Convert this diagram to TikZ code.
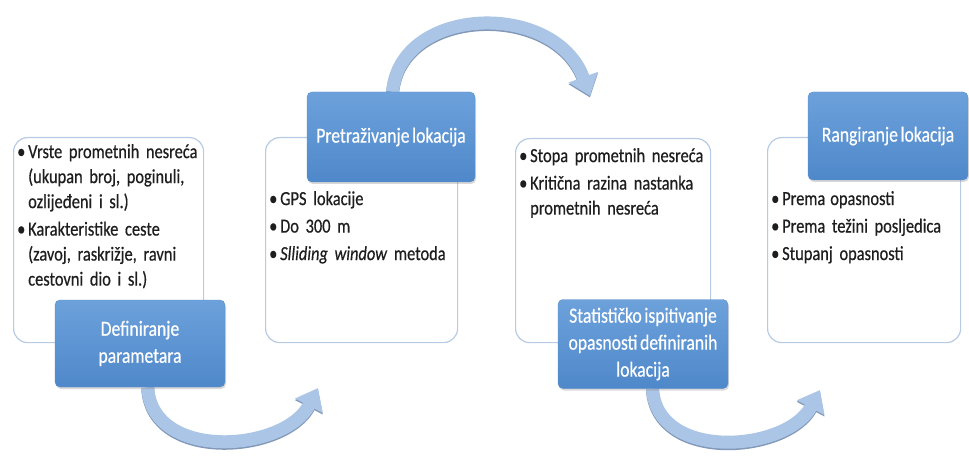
\documentclass[tikz,border=0pt]{standalone}
\usepackage{fontspec}
\setmainfont{Carlito}[FakeStretch=0.82, FakeBold=0.5]
\usetikzlibrary{arrows.meta,backgrounds,shadows}
\definecolor{tagtop}{HTML}{6CA1DB}
\definecolor{tagbot}{HTML}{4F88CA}
\definecolor{tagline}{HTML}{5A8DCA}
\definecolor{panelline}{HTML}{B7CBE4}
\definecolor{flowfill}{HTML}{ABC5E6}
\definecolor{flowedge}{HTML}{8198B8}
\definecolor{txt}{HTML}{1E1E1E}
\newcommand{\itm}[1]{\noindent\hangindent=11pt\hangafter=1\makebox[11pt][l]{\textbullet}#1\par}
\newcommand{\tagfont}{\fontsize{21.5}{27}\selectfont\spaceskip=2.6pt plus 1pt minus 0.5pt\relax}
\newcommand{\itemfont}{\fontsize{20}{25}\selectfont\parskip=2.5pt\relax\spaceskip=2.4pt plus 1pt minus 0.5pt\relax}
\tikzset{
panel/.style={draw=panelline, line width=1.2pt, rounded corners=14pt, fill=white, anchor=north west, inner sep=0pt},
tag/.style={draw=tagline, rounded corners=5pt, top color=tagtop, bottom color=tagbot, text=white, align=center, inner sep=0pt, font=\tagfont, drop shadow={opacity=0.3, shadow xshift=1pt, shadow yshift=-2pt}},
items/.style={anchor=north west, inner sep=0pt, text width=#1, align=left, text=txt, font=\itemfont},
flow/.style={draw=flowfill, line width=13pt, -{Triangle[length=20pt, width=30pt]},
  preaction={draw=flowedge, transform canvas={yshift=-1.5pt}, line width=13pt, -{Triangle[length=20pt, width=30pt]}}}
}
\begin{document}
\begin{tikzpicture}[x=1pt, y=-1pt]
\useasboundingbox (0,0) rectangle (969,457);
% white panels
\node[panel, minimum width=190pt, minimum height=205pt] (parampanel) at (13,137) {};
\node[panel, minimum width=192pt, minimum height=205pt] (lokpanel) at (265,137) {};
\node[panel, minimum width=195pt, minimum height=204pt] (statpanel) at (515,138) {};
\node[panel, minimum width=193pt, minimum height=205pt] (rangpanel) at (767,137) {};
% panel texts
\node[items=190pt] (paramtext) at (17,144) {\itm{Vrste prometnih nesreća\newline(ukupan broj, poginuli,\newline ozlijeđeni i sl.)}\itm{Karakteristike ceste\newline(zavoj, raskrižje, ravni\newline cestovni dio i sl.)}};
\node[items=190pt] (loktext) at (269,191) {\itm{GPS lokacije}\itm{Do 300 m}\itm{\textit{Slliding window} metoda}};
\node[items=195pt] (stattext) at (519,148) {\itm{Stopa prometnih nesreća}\itm{Kritična razina nastanka\newline prometnih nesreća}};
\node[items=190pt] (rangtext) at (771,191) {\itm{Prema\hspace{5pt}opasnosti}\itm{Prema težini posljedica}\itm{Stupanj opasnosti}};
% blue tags
\node[tag, minimum width=170pt, minimum height=87pt] (deftag) at (140,343.5) {Definiranje\\parametara};
\node[tag, minimum width=168pt, minimum height=90pt] (pretag) at (391,137) {Pretraživanje lokacija};
\node[tag, minimum width=170pt, minimum height=89pt] (stattag) at (643,344) {Statističko ispitivanje\\opasnosti definiranih\\lokacija};
\node[tag, minimum width=160pt, minimum height=88pt] (rangtag) at (888,136) {Rangiranje lokacija};
% arrows
\coordinate (headA) at (318,388);
\coordinate (headB) at (590,96);
\coordinate (headC) at (820,390);
\begin{scope}[on background layer]
\draw[flow] (deftag.280) .. controls (152,462) and (285,452) .. (headA);
\draw[flow] (pretag.88) .. controls (400,5) and (555,0) .. (headB);
\draw[flow] (stattag.282) .. controls (657,462) and (787,452) .. (headC);
\end{scope}
\end{tikzpicture}
\end{document}
